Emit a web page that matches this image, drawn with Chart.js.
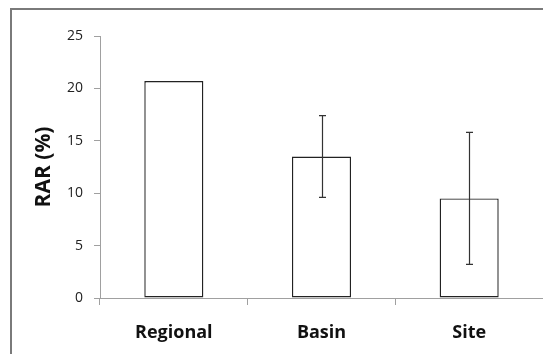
<!DOCTYPE html>
<html>
<head>
<meta charset="utf-8">
<script src="https://cdn.jsdelivr.net/npm/chart.js@4.4.1/dist/chart.umd.min.js"></script>
<style>
  html, body { margin: 0; padding: 0; background: #fff; overflow: hidden; }
  #wrap { position: relative; width: 543px; height: 354px; overflow: hidden; }
  #frame { position: absolute; left: 10px; top: 8px; width: 600px; height: 400px;
           border: 2px solid #7a7a7a; border-right: none; border-bottom: none; box-sizing: border-box; }
  canvas { position: absolute; left: 0; top: 0; }
</style>
</head>
<body>
<div id="wrap">
  <div id="frame"></div>
  <canvas id="c" width="570" height="354"></canvas>
</div>
<script>
// Relative abundance at three spatial scales, with spread shown as error bars
const categories = ['Regional', 'Basin', 'Site'];
const rarValues = [20.7, 13.5, 9.5];
const rarErrors = [null, 3.9, 6.3];
const yTicks = [0, 5, 10, 15, 20, 25];

const errorBars = {
  id: 'errorBars',
  afterDatasetsDraw(chart) {
    const { ctx } = chart;
    const y = chart.scales.y;
    const meta = chart.getDatasetMeta(0);
    ctx.save();
    ctx.strokeStyle = '#333';
    ctx.lineWidth = 1.2;
    meta.data.forEach((bar, i) => {
      const err = rarErrors[i];
      if (err == null) return;
      const x = Math.round(bar.x) + 0.5;
      const yHi = y.getPixelForValue(rarValues[i] + err);
      const yLo = y.getPixelForValue(rarValues[i] - err);
      const cap = 3.5;
      ctx.beginPath();
      ctx.moveTo(x, yHi); ctx.lineTo(x, yLo);
      ctx.moveTo(x - cap, yHi); ctx.lineTo(x + cap, yHi);
      ctx.moveTo(x - cap, yLo); ctx.lineTo(x + cap, yLo);
      ctx.stroke();
    });
    ctx.restore();
  }
};

new Chart(document.getElementById('c'), {
  type: 'bar',
  data: {
    labels: categories,
    datasets: [{
      data: rarValues,
      backgroundColor: '#ffffff',
      borderColor: '#222',
      borderWidth: 1.4,
      borderSkipped: false,
      barPercentage: 0.8,
      categoryPercentage: 0.5
    }]
  },
  options: {
    responsive: false,
    animation: false,
    events: [],
    layout: { padding: { top: 36, right: 27, left: 0, bottom: 0 } },
    plugins: { legend: { display: false }, tooltip: { enabled: false } },
    scales: {
      x: {
        offset: true,
        grid: { display: true, drawOnChartArea: false, offset: true, tickLength: 7, color: '#a0a0a0', lineWidth: 1 },
        border: { display: true, color: '#a0a0a0', width: 1 },
        ticks: { color: '#111', padding: 17, font: { family: 'Open Sans', size: 18, weight: 'bold' } },
        afterFit(scale) { scale.height = 56; }
      },
      y: {
        min: 0, max: 25,
        afterBuildTicks(scale) { scale.ticks = yTicks.map(v => ({ value: v })); },
        grid: { display: true, drawOnChartArea: false, tickLength: 6, color: '#a0a0a0', lineWidth: 1 },
        border: { display: true, color: '#a0a0a0', width: 1 },
        ticks: { color: '#222', padding: 11, font: { family: 'Open Sans', size: 14 } },
        title: {
          display: true, text: 'RAR (%)', color: '#111',
          font: { family: 'Open Sans', size: 21, weight: 'bold' },
          padding: { top: 31, bottom: 0 }
        },
        afterFit(scale) { scale.width = 100; }
      }
    }
  },
  plugins: [errorBars]
});
</script>
</body>
</html>
